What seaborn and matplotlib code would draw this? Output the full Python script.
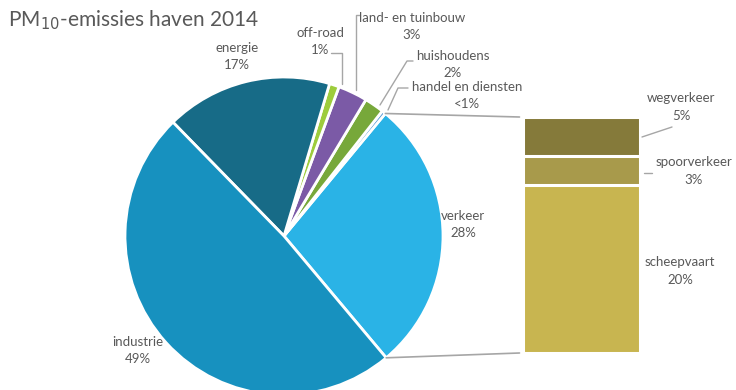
import numpy as np
import matplotlib
matplotlib.use("Agg")
import matplotlib.pyplot as plt
from matplotlib.patches import ConnectionPatch
import seaborn as sns
import pandas as pd

# ---- data ----
pie_labels = ["verkeer", "handel en diensten", "huishoudens", "land- en tuinbouw",
              "off-road", "energie", "industrie"]
pie_values = [28.0, 0.4, 2.0, 3.0, 1.0, 17.0, 49.0]
pie_texts = ["28%", "<1%", "2%", "3%", "1%", "17%", "49%"]
pie_colors = ["#2ab3e6", "#5b9bd5", "#77a83a", "#7b5aa6", "#9dcc3c", "#176b87", "#1791bf"]

bar_labels = ["wegverkeer", "spoorverkeer", "scheepvaart"]
bar_values = [4.6, 3.45, 19.95]
bar_texts = ["5%", "3%", "20%"]
bar_colors = ["#857a3a", "#a89a4b", "#c8b550"]

title_text = "PM$_{10}$-emissies haven 2014"

# ---- style ----
sns.set_theme(style="white")
plt.rcParams["font.family"] = ["Lato", "DejaVu Sans"]
TXT = "#595959"
LINE = "#a6a6a6"

W, H = 736, 390
fig = plt.figure(figsize=(W / 100, H / 100), dpi=100)
ax = fig.add_axes([0, 0, 1, 1])

# pie geometry (pixel space, y up)
cx, cy, r = 284, H - 236, 159
start = -50
ax.pie(pie_values, colors=pie_colors, startangle=start, counterclock=True,
       center=(cx, cy), radius=r, frame=True,
       wedgeprops=dict(edgecolor="white", linewidth=2))
ax.set_xlim(0, W)
ax.set_ylim(0, H)
ax.set_aspect("equal")
ax.axis("off")

def P(x, y):
    return (x, H - y)

# labels for pie
label_pos = {
    "verkeer": (463, 216),
    "handel en diensten": (467, 87),
    "huishoudens": (453, 56),
    "land- en tuinbouw": (412, 18),
    "off-road": (320, 33),
    "energie": (237, 48),
    "industrie": (138, 342),
}
for lab, txt in zip(pie_labels, pie_texts):
    x, y = label_pos[lab]
    ax.text(*P(x, y), lab, ha="center", va="center", fontsize=9.5, color=TXT)
    ax.text(*P(x, y + 17), txt, ha="center", va="center", fontsize=9.5, color=TXT)

# leader lines
leaders = [
    [(331, 53), (342, 53), (342, 84)],
    [(360, 15), (356, 15), (356, 90)],
    [(380, 105), (407, 61), (413, 61)],
    [(388, 110), (398, 88), (408, 88)],
    [(642, 137), (672, 127)],
    [(644, 173), (652, 173)],
]
for pts in leaders:
    xs = [p[0] for p in pts]
    ys = [H - p[1] for p in pts]
    ax.plot(xs, ys, color=LINE, lw=1)

ax.text(8, H - 20, title_text, ha="left", va="center", fontsize=15, color=TXT)

# ---- bar of pie ----
bx0, bx1, by0, by1 = 523, 640, 117, 353
bax = fig.add_axes([bx0 / W, (H - by1) / H, (bx1 - bx0) / W, (by1 - by0) / H])
cum = np.cumsum(bar_values[::-1])[::-1]  # top-down cumulative heights
for val, col in zip(cum, bar_colors):
    df = pd.DataFrame({"x": ["verkeer"], "y": [val]})
    sns.barplot(data=df, x="x", y="y", color=col, width=1.0, ax=bax,
                edgecolor="white", linewidth=2.2, saturation=1)
bax.set_xlim(-0.5, 0.5)
bax.set_ylim(0, sum(bar_values))
bax.axis("off")

bar_label_pos = {"wegverkeer": (681, 98), "spoorverkeer": (694, 162), "scheepvaart": (680, 262)}
for lab, txt in zip(bar_labels, bar_texts):
    x, y = bar_label_pos[lab]
    ax.text(*P(x, y), lab, ha="center", va="center", fontsize=9.5, color=TXT)
    ax.text(*P(x, y + 18), txt, ha="center", va="center", fontsize=9.5, color=TXT)

# connectors from pie edges to the bar
a_top = np.deg2rad(start + 360 * pie_values[0] / sum(pie_values))
a_bot = np.deg2rad(start)
for ang, yb in [(a_top, sum(bar_values)), (a_bot, 0)]:
    p_pie = (cx + r * np.cos(ang), cy + r * np.sin(ang))
    con = ConnectionPatch(xyA=p_pie, coordsA=ax.transData,
                          xyB=(-0.53, yb), coordsB=bax.transData,
                          color=LINE, lw=1.2)
    fig.add_artist(con)

fig.savefig("out.png", dpi=100)
